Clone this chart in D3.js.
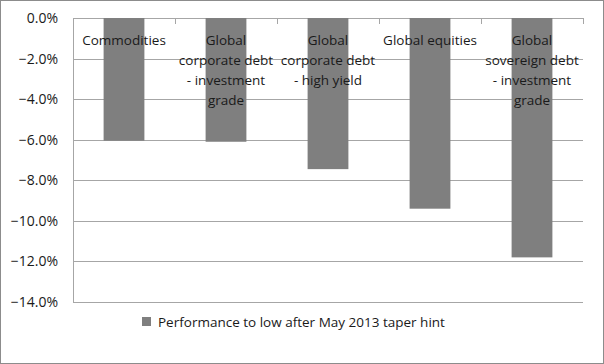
<!DOCTYPE html>
<html>
<head>
<meta charset="utf-8">
<script src="https://cdn.jsdelivr.net/npm/d3@7"></script>
<style>
  body { margin: 0; background: #fff; }
  text { font-family: "Open Sans", "Noto Sans", sans-serif; fill: #1a1a1a; }
</style>
</head>
<body>
<svg id="chart"></svg>
<script>
// DATA
var categories = [
  ["Commodities"],
  ["Global", "corporate debt", "- investment", "grade"],
  ["Global", "corporate debt", "- high yield"],
  ["Global equities"],
  ["Global", "sovereign debt", "- investment", "grade"]
];
var values = [-6.05, -6.1, -7.45, -9.4, -11.8];
var yTicks = [0, -2, -4, -6, -8, -10, -12, -14];
var seriesName = "Performance to low after May 2013 taper hint";

// SIZING
var W = 604, H = 364;
var margin = {top: 18, right: 21, bottom: 62, left: 73};
var width = W - margin.left - margin.right;
var height = H - margin.top - margin.bottom;

var svg = d3.select("#chart").attr("width", W).attr("height", H);

// OUTER BORDER
svg.append("rect")
  .attr("x", 0.5).attr("y", 0.5)
  .attr("width", W - 1).attr("height", H - 1)
  .style("fill", "#fff").style("stroke", "#8c8c8c");

var g = svg.append("g")
  .attr("transform", "translate(" + margin.left + "," + margin.top + ")");

var x = d3.scaleBand()
  .domain(d3.range(categories.length))
  .range([0, width])
  .paddingInner(0.6).paddingOuter(0.3);

var y = d3.scaleLinear()
  .domain([0, -14])
  .range([0, height]);

// GRIDLINES
g.selectAll(".grid")
  .data(yTicks)
  .enter().append("line")
  .attr("x1", 0).attr("x2", width)
  .attr("y1", function(d) { return Math.round(y(d)) + 0.5; })
  .attr("y2", function(d) { return Math.round(y(d)) + 0.5; })
  .style("stroke", "#a6a6a6").style("stroke-width", 1);

// Y AXIS
var yAxis = g.append("g")
  .call(d3.axisLeft(y).tickValues(yTicks).tickSize(0).tickPadding(15)
    .tickFormat(function(d) { return d3.format(".1f")(d) + "%"; }));
yAxis.select(".domain").remove();
yAxis.selectAll("text").style("font-size", "14px").style("fill", "#1a1a1a")
  .style("font-family", "'Open Sans', sans-serif");

g.append("line")
  .attr("x1", 0.5).attr("x2", 0.5).attr("y1", 0).attr("y2", height)
  .style("stroke", "#a6a6a6");

// BARS
g.selectAll(".bar")
  .data(values)
  .enter().append("rect")
  .attr("x", function(d, i) { return x(i); })
  .attr("y", y(0))
  .attr("width", x.bandwidth())
  .attr("height", function(d) { return y(d) - y(0); })
  .style("fill", "#7f7f7f");

// CATEGORY TICKS
var step = width / categories.length;
g.selectAll(".ctick")
  .data(d3.range(categories.length + 1))
  .enter().append("line")
  .attr("x1", function(d) { return Math.round(d * step) + 0.5; })
  .attr("x2", function(d) { return Math.round(d * step) + 0.5; })
  .attr("y1", 0).attr("y2", 6)
  .style("stroke", "#a6a6a6");

// CATEGORY LABELS
var labels = g.selectAll(".clabel")
  .data(categories)
  .enter().append("text")
  .attr("text-anchor", "middle")
  .style("font-size", "13.5px")
  .attr("transform", function(d, i) {
    return "translate(" + (x(i) + x.bandwidth() / 2) + "," + 27 + ")";
  });
labels.selectAll("tspan")
  .data(function(d) { return d; })
  .enter().append("tspan")
  .attr("x", 0)
  .attr("y", function(d, i) { return i * 20; })
  .text(function(d) { return d; });

// LEGEND
var legend = svg.append("g").attr("transform", "translate(142,317)");
legend.append("rect").attr("width", 9).attr("height", 9).style("fill", "#7f7f7f");
legend.append("text")
  .attr("x", 16).attr("y", 9.5)
  .style("font-size", "13.5px")
  .text(seriesName);
</script>
</body>
</html>
